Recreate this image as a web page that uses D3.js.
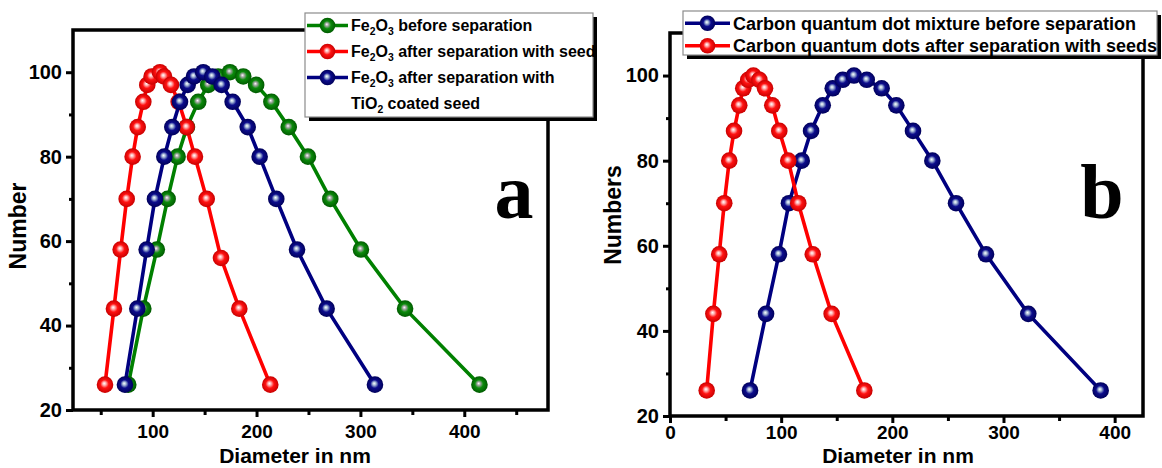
<!DOCTYPE html>
<html>
<head>
<meta charset="utf-8">
<script src="https://cdn.jsdelivr.net/npm/d3@7"></script>
<style>
  body { margin: 0; background: #fff; }
  text { font-family: "Liberation Sans", Arial, sans-serif; font-weight: bold; fill: #000; }
</style>
</head>
<body>
<svg id="chart" width="1162" height="468"></svg>
<script>
// ---- panel a : Fe2O3 (diameter in nm, number) ----
const feBeforeD = [76.5, 91, 104, 114.4, 124, 133, 143.9, 153.5, 163, 174.4, 187.2, 199.6, 214.3, 231, 249.5, 271, 300.5, 343, 414.6];
const feBeforeN = [26, 44, 58, 70, 80, 87, 93, 97, 99, 100, 99, 97, 93, 87, 80, 70, 58, 44, 26];
const feSeedD = [54.1, 62.7, 69.2, 75, 80.7, 85.6, 91, 94.8, 99, 107, 110.9, 117.6, 125, 132.7, 140.7, 152, 165.8, 183.4, 213.2];
const feSeedN = [26, 44, 58, 70, 80, 87, 93, 97, 99, 100, 99, 97, 93, 87, 80, 70, 56, 44, 26];
const feTiO2D = [73.3, 85.2, 94.2, 102.2, 111.2, 118.9, 126.3, 133.7, 139.8, 148.7, 157.4, 166.4, 177, 191.5, 203, 219, 239, 267.5, 314];
const feTiO2N = [26, 44, 58, 70, 80, 87, 93, 97, 99, 100, 99, 97, 93, 87, 80, 70, 58, 44, 26];

// ---- panel b : carbon quantum dots ----
const cqdMixD = [72, 86.4, 98, 107, 118.5, 126.9, 137.4, 146.4, 155.4, 165.5, 177, 190.4, 203.6, 218.6, 236, 257.3, 284.3, 322.3, 387.4];
const cqdMixN = [26, 44, 58, 70, 80, 87, 93, 97, 99, 100, 99, 97, 93, 87, 80, 70, 58, 44, 26];
const cqdSeedD = [33, 39, 44.3, 48.8, 53.3, 57.6, 62.3, 65.9, 70.4, 75, 80.4, 85.5, 92, 98.3, 106.4, 115.4, 128.4, 145.4, 174.8];
const cqdSeedN = [26, 44, 58, 70, 80, 87, 93, 97, 99, 100, 99, 97, 93, 87, 80, 70, 58, 44, 26];

// tick values
const yMajor = [20, 40, 60, 80, 100];
const yMinor = [30, 50, 70, 90];
const aMajor = [100, 200, 300, 400];
const aMinor = [50, 150, 250, 350, 450];
const bMajor = [0, 100, 200, 300, 400];
const bMinor = [50, 150, 250, 350];

// legend labels ("_n" = subscript)
const legendA = ["Fe_2O_3 before separation", "Fe_2O_3 after separation with seed", "Fe_2O_3 after separation with"];
const legendA2 = "TiO_2 coated seed";
const legendB = ["Carbon quantum dot mixture before separation", "Carbon quantum dots after separation with seeds"];

const colors = {
    green: {base: "#008000", stops: ["#ffffff", "#a8a8a8", "#0b8a0b", "#005a00"]},
    red: {base: "#ff0000", stops: ["#ffffff", "#ffb4b4", "#ff1212", "#c80000"]},
    navy: {base: "#000080", stops: ["#ffffff", "#a8bcd8", "#0c0c8c", "#00005a"]}
};

const svg = d3.select("#chart");
const defs = svg.append("defs");
Object.entries(colors).forEach(([k, c]) => {
    const gr = defs.append("radialGradient").attr("id", "ball-" + k)
        .attr("cx", "50%").attr("cy", "50%").attr("r", "50%").attr("fx", "45%").attr("fy", "42%");
    [0, 0.2, 0.5, 1].forEach((o, i) => gr.append("stop").attr("offset", o).attr("stop-color", c.stops[i]));
});

function richText(sel, str, subSize) {
    const parts = str.split(/_(\d)/);
    parts.forEach((p, i) => {
        if (p === "") return;
        if (i % 2 === 1) {
            sel.append("tspan").attr("dy", 4).attr("font-size", subSize).text(p);
        } else {
            const t = sel.append("tspan").text(p);
            if (i > 0) t.attr("dy", -4);
        }
    });
}

function styleAxis(g, w, fs) {
    g.select(".domain").remove();
    g.selectAll(".tick line").attr("stroke", "#000").attr("stroke-width", w);
    g.selectAll(".tick text").attr("font-family", null).attr("font-size", fs).attr("fill", "#000");
}

function drawPanel(cfg) {
    const x = d3.scaleLinear().domain(cfg.xDomain).range([cfg.left, cfg.right]);
    const y = d3.scaleLinear().domain([20, 110]).range([cfg.bottom, cfg.top]);
    const g = svg.append("g");

    // axes: minor then major ticks
    g.append("g").attr("transform", `translate(0,${cfg.bottom})`)
        .call(d3.axisBottom(x).tickValues(cfg.xMinor).tickSize(5).tickFormat(""))
        .call(a => styleAxis(a, 3, 19));
    g.append("g").attr("transform", `translate(0,${cfg.bottom})`)
        .call(d3.axisBottom(x).tickValues(cfg.xMajor).tickSize(7).tickPadding(cfg.xPad).tickFormat(d3.format("d")))
        .call(a => styleAxis(a, 3, 19));
    g.append("g").attr("transform", `translate(${cfg.left},0)`)
        .call(d3.axisLeft(y).tickValues(yMinor).tickSize(4).tickFormat(""))
        .call(a => styleAxis(a, 3, 20));
    g.append("g").attr("transform", `translate(${cfg.left},0)`)
        .call(d3.axisLeft(y).tickValues(yMajor).tickSize(7).tickPadding(4).tickFormat(d3.format("d")))
        .call(a => styleAxis(a, 3, 20));

    // frame
    g.append("rect").attr("x", cfg.left).attr("y", cfg.top)
        .attr("width", cfg.right - cfg.left).attr("height", cfg.bottom - cfg.top)
        .attr("fill", "none").attr("stroke", "#000").attr("stroke-width", 3.5);

    // series
    const line = d3.line().x(d => x(d[0])).y(d => y(d[1]));
    cfg.series.forEach(s => {
        const pts = d3.zip(s.d, s.n);
        g.append("path").datum(pts).attr("d", line)
            .attr("fill", "none").attr("stroke", colors[s.color].base).attr("stroke-width", 3.6);
        g.selectAll(null).data(pts).join("circle")
            .attr("cx", d => x(d[0])).attr("cy", d => y(d[1])).attr("r", 8.3)
            .attr("fill", `url(#ball-${s.color})`);
    });

    // axis titles
    g.append("text").attr("x", cfg.xTitleX).attr("y", 463)
        .attr("text-anchor", "middle").attr("font-size", 21).text("Diameter in nm");
    g.append("text").attr("transform", `translate(${cfg.yTitleX},${cfg.yTitleY}) rotate(-90)`)
        .attr("text-anchor", "middle").attr("dy", "0.35em").attr("font-size", 23).text(cfg.yTitle);

    // panel letter
    g.append("text").attr("x", cfg.letterX).attr("y", 218).attr("text-anchor", "middle")
        .style("font-family", "'Liberation Serif','Times New Roman',serif")
        .attr("font-size", 78).text(cfg.letter);
}

function drawLegend(box, rows, extra) {
    const g = svg.append("g");
    g.append("rect").attr("x", box.x + 4).attr("y", box.y + 4).attr("width", box.w).attr("height", box.h).attr("fill", "#000");
    g.append("rect").attr("x", box.x).attr("y", box.y).attr("width", box.w).attr("height", box.h)
        .attr("fill", "#fff").attr("stroke", "#8c8c8c").attr("stroke-width", 1.2);
    rows.forEach((r, i) => {
        const cy = box.y + box.first + i * box.step;
        g.append("line").attr("x1", box.x + 2).attr("x2", box.x + box.sym).attr("y1", cy).attr("y2", cy)
            .attr("stroke", colors[r.color].base).attr("stroke-width", 3.4);
        g.append("circle").attr("cx", box.x + 2 + (box.sym - 2) / 2).attr("cy", cy).attr("r", 7.8)
            .attr("fill", `url(#ball-${r.color})`);
        const t = g.append("text").attr("x", box.x + box.sym + 3).attr("y", cy + box.fs * 0.36).attr("font-size", box.fs);
        richText(t, r.label, box.fs * 0.65);
    });
    if (extra) {
        const cy = box.y + box.first + rows.length * box.step;
        const t = g.append("text").attr("x", box.x + box.sym + 3).attr("y", cy + box.fs * 0.36).attr("font-size", box.fs);
        richText(t, extra, box.fs * 0.65);
    }
}

drawPanel({
    left: 73, right: 548, top: 30, bottom: 410,
    xDomain: [23.3, 480.6], xMajor: aMajor, xMinor: aMinor, xPad: 8,
    xTitleX: 295, yTitleX: 18, yTitleY: 226, yTitle: "Number",
    letter: "a", letterX: 514,
    series: [
        {d: feBeforeD, n: feBeforeN, color: "green"},
        {d: feSeedD, n: feSeedN, color: "red"},
        {d: feTiO2D, n: feTiO2N, color: "navy"}
    ]
});

drawPanel({
    left: 670, right: 1143, top: 33, bottom: 416,
    xDomain: [0, 425.5], xMajor: bMajor, xMinor: bMinor, xPad: 3,
    xTitleX: 898, yTitleX: 613, yTitleY: 215, yTitle: "Numbers",
    letter: "b", letterX: 1102,
    series: [
        {d: cqdMixD, n: cqdMixN, color: "navy"},
        {d: cqdSeedD, n: cqdSeedN, color: "red"}
    ]
});

drawLegend({x: 305, y: 13, w: 288, h: 104, first: 12.5, step: 26, sym: 43, fs: 16},
    [{label: legendA[0], color: "green"}, {label: legendA[1], color: "red"}, {label: legendA[2], color: "navy"}],
    legendA2);

drawLegend({x: 683, y: 11, w: 474, h: 44, first: 12.3, step: 22.4, sym: 47, fs: 18},
    [{label: legendB[0], color: "navy"}, {label: legendB[1], color: "red"}]);
</script>
</body>
</html>
